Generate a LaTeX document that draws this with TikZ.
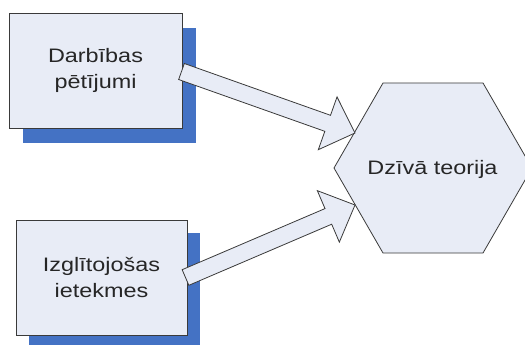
\documentclass[tikz,border=0pt]{standalone}
\usepackage{fontspec}
\setmainfont[FakeStretch=1.2]{Liberation Sans}
\usetikzlibrary{calc,backgrounds}
\definecolor{boxfill}{HTML}{E8ECF6}
\definecolor{shadowblue}{HTML}{4472C4}
\definecolor{edgegray}{HTML}{3A3A3A}
\definecolor{textgray}{HTML}{262626}
\newcommand\fatarrow[3]{%
  \coordinate (#3) at ($(#2)!29pt!(#1)$);
  \filldraw[arrowshape]
    ($(#1)!8.5pt!90:(#2)$) --
    ($(#3)!8.5pt!-90:(#1)$) --
    ($(#3)!28pt!-90:(#1)$) --
    (#2) --
    ($(#3)!28pt!90:(#1)$) --
    ($(#3)!8.5pt!90:(#1)$) --
    ($(#1)!8.5pt!-90:(#2)$) -- cycle;
}
\begin{document}
\begin{tikzpicture}[x=1pt,y=-1pt,
  box/.style={draw=edgegray, fill=boxfill, line width=0.8pt, inner sep=0pt,
    align=center, text=textgray, font=\fontsize{19.5}{26}\selectfont},
  shadowfill/.style={fill=shadowblue},
  arrowshape/.style={draw=edgegray, fill=boxfill, line width=0.8pt, line join=miter},
  hexshape/.style={draw=edgegray, fill=boxfill, line width=0.8pt},
  hextext/.style={text=textgray, font=\fontsize{19.5}{26}\selectfont, inner sep=0pt}]
\clip (0,0) rectangle (525,345);
% boxes
\node[box, minimum width=173pt, minimum height=115pt] (b1) at (95.5,70.5) {Darbības\\pētījumi};
\node[box, minimum width=171pt, minimum height=115pt] (b2) at (101.5,277.5) {Izglītojošas\\ietekmes};
\begin{pgfonlayer}{background}
\fill[white] (0,0) rectangle (525,345);
\fill[shadowfill] ($(b1.south west)+(14,15)$) rectangle ($(b1.north east)+(14,15)$);
\fill[shadowfill] ($(b2.south west)+(13,13)$) rectangle ($(b2.north east)+(13,13)$);
\end{pgfonlayer}
% hexagon
\coordinate (hL) at (334,168);
\coordinate (hTL) at (383,83);
\coordinate (hTR) at (483,83);
\coordinate (hR) at (532,168);
\coordinate (hBR) at (483,253);
\coordinate (hBL) at (383,253);
\filldraw[hexshape] (hL) -- (hTL) -- (hTR) -- (hR) -- (hBR) -- (hBL) -- cycle;
\node[hextext] (hex) at (432.5,169) {Dzīvā teorija};
% arrows
\coordinate (t1) at (181.5,71.5);
\coordinate (p1) at (355,133);
\coordinate (t2) at (185.5,277.5);
\coordinate (p2) at (355,205);
\fatarrow{t1}{p1}{h1}
\fatarrow{t2}{p2}{h2}
\end{tikzpicture}
\end{document}
